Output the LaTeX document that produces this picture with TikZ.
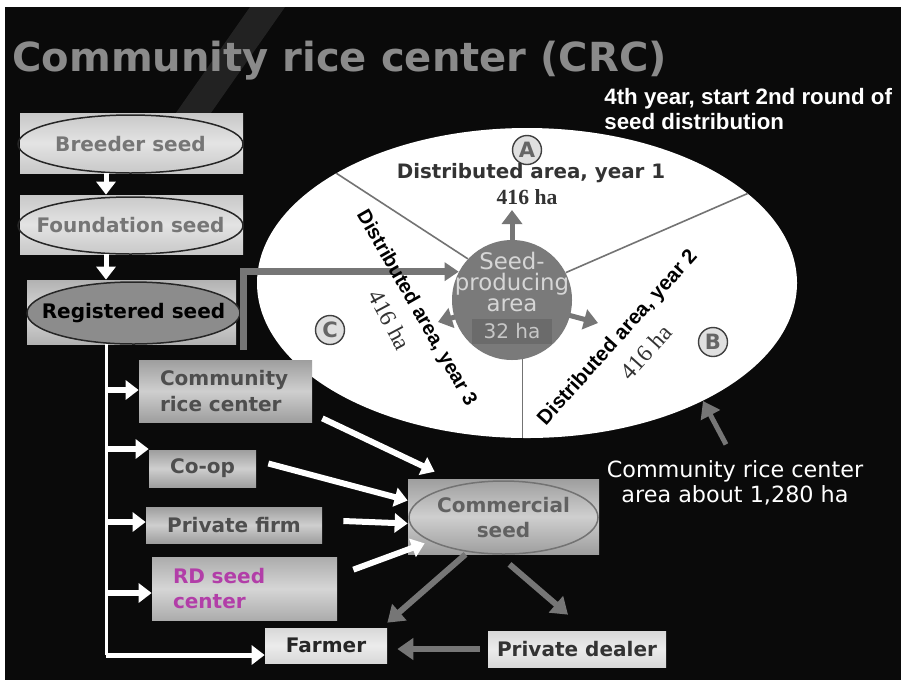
\documentclass[tikz,border=0pt]{standalone}
\usepackage{fontspec}
\setmainfont{DejaVu Sans}
\newfontfamily\narrowfont{Liberation Sans}
\newfontfamily\serifnum{Liberation Serif}
\usetikzlibrary{arrows.meta,calc}
\definecolor{slidebg}{RGB}{10,10,10}
\definecolor{titlegray}{RGB}{138,138,138}
\definecolor{paleslab}{RGB}{200,200,200}
\definecolor{midslab}{RGB}{158,158,158}
\definecolor{rdslab}{RGB}{172,172,172}
\definecolor{regslab}{RGB}{178,178,178}
\definecolor{regcore}{RGB}{140,140,140}
\definecolor{lightslab}{RGB}{216,216,216}
\definecolor{fadetext}{RGB}{118,118,118}
\definecolor{darktext}{RGB}{78,78,78}
\definecolor{rdpink}{RGB}{178,62,168}
\definecolor{arrowgray}{RGB}{118,118,118}
\definecolor{discgray}{RGB}{122,122,122}
\newlength{\pxu}\setlength{\pxu}{0.02cm}
\newcommand{\boxfont}{\bfseries\fontsize{11.4}{14.4}\selectfont}

\begin{document}
\begin{tikzpicture}[x=0.02cm,y=-0.02cm,
  every node/.style={inner sep=0pt},
  slab/.style={rectangle, top color=#1, bottom color=#1, middle color=#1!50!white},
  ring/.style={draw=black!85, line width=1.5\pxu},
  wharrow/.style={draw=white, line width=6\pxu, -{Triangle[length=7.4pt,width=10.8pt]}},
  grarrow/.style={draw=arrowgray, line width=6\pxu, -{Triangle[length=9.1pt,width=12pt]}},
  sparrow/.style={draw=arrowgray, line width=5\pxu, -{Triangle[length=8pt,width=11.4pt]}},
  trunk/.style={draw=white, line width=3\pxu},
  divline/.style={draw=black!55, line width=1.6\pxu},
  zone/.style={circle, draw=black!75, fill=black!12, line width=1.4\pxu, minimum size=29\pxu,
    text=black!60, font=\bfseries\fontsize{12}{12}\selectfont},
  spin/.style={font=\narrowfont\bfseries\fontsize{11.4}{12}\selectfont, text=black},
  ha/.style={font=\serifnum\fontsize{13.5}{14}\selectfont, text=black!80}]
\useasboundingbox (0,0) rectangle (901,680);
\fill[white] (0,0) rectangle (901,680);
\fill[slidebg] (5,7) rectangle (901,680);
\fill[white, opacity=.10] (150,150) -- (250,7) -- (285,7) -- (185,150) -- cycle;

% title and note
\node[anchor=base west, text=titlegray, font=\bfseries\fontsize{22.8}{26}\selectfont] (title) at (12,71) {Community rice center (CRC)};
\node[anchor=base west, text=white, font=\narrowfont\bfseries\fontsize{12.7}{14}\selectfont] (roundnote) at (604,104) {4th year, start 2nd round of};
\node[anchor=base west, text=white, font=\narrowfont\bfseries\fontsize{12.7}{14}\selectfont] (roundnoteb) at (604,129) {seed distribution};

% the CRC area
\fill[white] (527,283) ellipse [x radius=270, y radius=155];
\node[circle, minimum size=120\pxu] (seedarea) at (512,300) {};
\begin{scope}
\clip (527,283) ellipse [x radius=270, y radius=155];
\draw[divline] (seedarea.137) -- ++(-252,-164);
\draw[divline] (seedarea.27) -- ++(354,-154);
\draw[divline] (seedarea.-80) -- ++(0,150);
\end{scope}
\draw[sparrow] (seedarea.center) -- ++(0,-90);
\draw[sparrow] (seedarea.center) -- ++(-74,22);
\draw[sparrow] (seedarea.center) -- ++(86,23);
\fill[discgray] (seedarea) circle [radius=60];
\node[fill=black!58, minimum width=80\pxu, minimum height=25\pxu, text=black!22,
  font=\fontsize{11.4}{12}\selectfont] (plate) at (512,331) {32 ha};
\node[align=center, text=black!16, font=\fontsize{13}{12}\selectfont] (seedtxt) at (512,282) {Seed-\\producing\\area};
\foreach \p/\x/\y in {A/527/150,B/713/342,C/330/330}
  \node[zone] (zone\p) at (\x,\y) {\p};

% seed classes
\coordinate (spine) at (106,0);
\coordinate (trunkend) at (106,655);
\coordinate (elbow) at (243,350);
\node[slab=paleslab, minimum width=223\pxu, minimum height=60\pxu] (breeder) at (131.5,143) {};
\draw[ring] (130.5,144) ellipse [x radius=112.5, y radius=29];
\node[text=fadetext, font=\boxfont] (breedertxt) at (130.5,144) {Breeder seed};
\node[slab=paleslab, minimum width=223\pxu, minimum height=59\pxu] (found) at (131.5,224.5) {};
\draw[ring] (130.5,225.5) ellipse [x radius=112.5, y radius=28.5];
\node[text=fadetext, font=\boxfont] (foundtxt) at (130.5,225.5) {Foundation seed};
\node[slab=regslab, minimum width=209\pxu, minimum height=64\pxu] (reg) at (131.5,312) {};
\draw[ring, fill=regcore] (133.5,313) ellipse [x radius=106.5, y radius=31];
\node[text=black, font=\boxfont] (regtxt) at (133.5,313) {Registered seed};
\draw[wharrow, line width=5\pxu] (breeder.south -| spine) -- (found.north -| spine);
\draw[wharrow, line width=5\pxu] (found.south -| spine) -- (reg.north -| spine);
\draw[grarrow, line width=7\pxu, -{Triangle[length=8pt,width=10.2pt]}] (elbow) |- (seedarea.152);

% producers
\node[slab=midslab, minimum width=173\pxu, minimum height=62\pxu, text width=131\pxu, align=left,
  inner xsep=21\pxu, text=darktext, font=\boxfont] (crc) at (225.5,391) {Community\\rice center};
\node[slab=midslab, minimum width=107\pxu, minimum height=37\pxu, text=darktext, font=\boxfont] (coop) at (202.5,468.5) {Co-op};
\node[slab=midslab, minimum width=176\pxu, minimum height=36\pxu, text=darktext, font=\boxfont] (firm) at (234,525) {Private firm};
\node[slab=rdslab, minimum width=185\pxu, minimum height=63\pxu, text width=143\pxu, align=left,
  inner xsep=21\pxu, text=rdpink, font=\boxfont] (rdc) at (244.5,588.5) {RD seed\\center};
\node[slab=lightslab, minimum width=122\pxu, minimum height=35\pxu, text=black!85, font=\boxfont] (farmer) at (326,645.5) {Farmer};
\node[slab=lightslab, minimum width=178\pxu, minimum height=36\pxu, text=black!80, font=\boxfont] (dealer) at (577,649) {Private dealer};
\node[slab=midslab, minimum width=191\pxu, minimum height=75\pxu] (comm) at (503.5,516.5) {};
\draw[ring, draw=black!55] (503.5,517.5) ellipse [x radius=94.5, y radius=36.5];
\node[text=black!62, align=center, font=\boxfont] (commtxt) at (503.5,517.5) {Commercial\\seed};

\draw[trunk] (reg.south -| spine) -- (trunkend);
\foreach \b/\yy in {crc/390,coop/449,firm/522,rdc/593}
  \draw[wharrow] (spine |- 0,\yy) -- (\b.west |- 0,\yy);
\draw[wharrow, line width=5\pxu] (trunkend) -- (trunkend -| farmer.west);
\draw[wharrow] ($(crc.south east)+(10,-4)$) -- ($(comm.north west)+(27,-7)$);
\draw[wharrow] ($(coop.east)+(12,-5)$) -- ([yshift=16\pxu]comm.west);
\draw[wharrow] ($(firm.east)+(21,-4)$) -- ([yshift=-7\pxu]comm.west);
\draw[wharrow] ($(rdc.north east)+(16,13)$) -- ($(comm.south west)+(17,-11)$);
\draw[grarrow] ($(comm.south)+(-38,0)$) -- ($(farmer.north east)+(0,-5)$);
\draw[grarrow] ($(comm.south)+(6,10)$) -- ($(dealer.north)+(-9,-16)$);
\draw[grarrow] ([xshift=-8\pxu]dealer.west) -- ($(farmer.east |- dealer.west)+(10,0)$);

% area labels
\node[text=black!80, font=\bfseries\fontsize{11.3}{12}\selectfont] (yr1) at (531,173) {Distributed area, year 1};
\node[ha, font=\serifnum\bfseries\fontsize{12.3}{13}\selectfont] (ha1) at (527,197) {416 ha};
\node[spin, rotate=-60.2] (yr3) at (416,308) {Distributed area, year 3};
\node[ha, rotate=-62] (ha3) at (390,320) {416 ha};
\node[spin, font=\narrowfont\bfseries\fontsize{11.7}{12}\selectfont, rotate=48] (yr2) at (618,338) {Distributed area, year 2};
\node[ha, rotate=48] (ha2) at (646,352) {416 ha};

\node[text=white, align=center, font=\fontsize{12.7}{14.2}\selectfont] (crcarea) at (735,483) {Community rice center\\area about 1,280 ha};
\coordinate (rim) at (703,401);
\draw[grarrow, line width=5\pxu] ($(crcarea.north)+(-9,-16)$) -- (rim);
\end{tikzpicture}
\end{document}
